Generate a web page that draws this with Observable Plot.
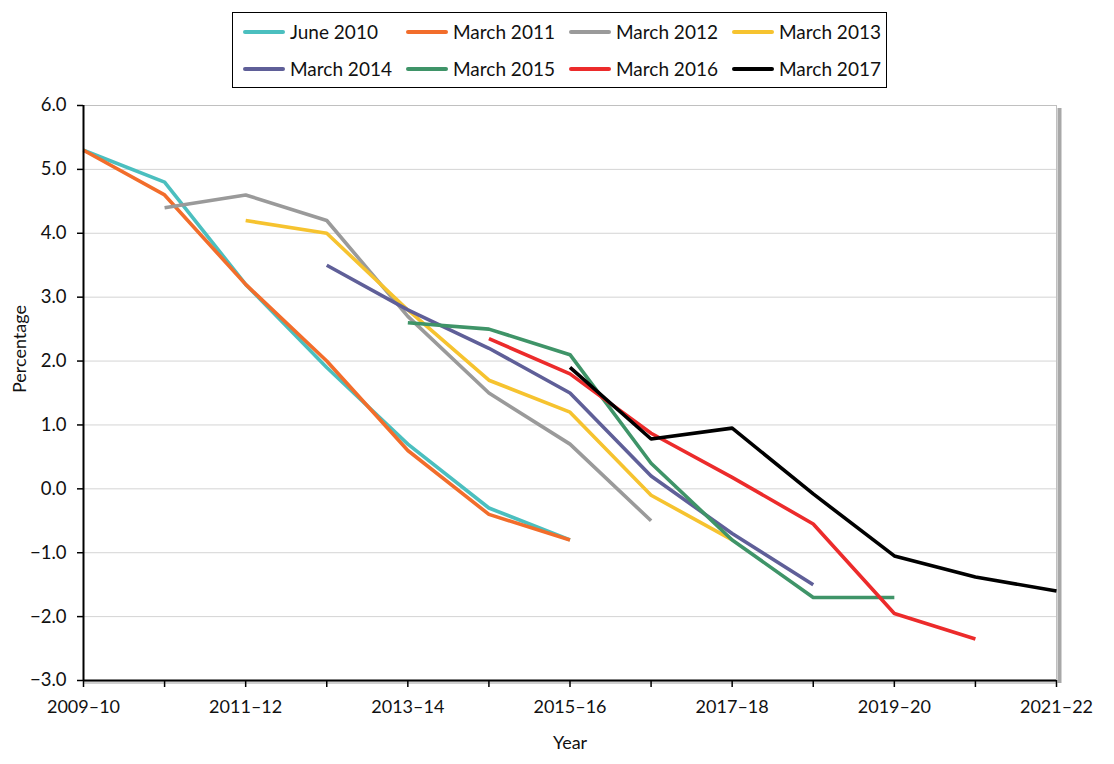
<!DOCTYPE html>
<html>
<head>
<meta charset="utf-8">
<script src="https://cdn.jsdelivr.net/npm/d3@7"></script>
<script src="https://cdn.jsdelivr.net/npm/@observablehq/plot@0.6"></script>
<style>
  html, body { margin: 0; padding: 0; background: #fff; }
  body { width: 1114px; height: 764px; overflow: hidden; font-family: Lato, "Open Sans", sans-serif; }
  #legend-wrap { height: 85px; position: relative; }
  #legend {
    position: absolute; left: 232px; top: 12px; width: 655px; height: 76px;
    border: 1.5px solid #000; box-sizing: border-box;
    display: grid; grid-template-columns: 163px 163px 163px 163px; grid-template-rows: 37px 37px;
    padding: 0 0 0 10px; align-content: center;
  }
  .item { display: flex; align-items: center; font-size: 19px; color: #111; white-space: nowrap; }
  .sw { width: 42px; height: 4px; border-radius: 2px; margin-right: 5px; flex: none; }
</style>
</head>
<body>
<div id="legend-wrap"><div id="legend"></div></div>
<div id="chart"></div>
<script>
const years = ["2009–10","2010–11","2011–12","2012–13","2013–14","2014–15","2015–16","2016–17","2017–18","2018–19","2019–20","2020–21","2021–22"];
const seriesNames = ["June 2010","March 2011","March 2012","March 2013","March 2014","March 2015","March 2016","March 2017"];
const seriesColors = ["#4bbfbf","#f26d2b","#9a9a9a","#f6c32f","#5f5f98","#3f9468","#ec2b2b","#000000"];
// values per year index (null = no forecast)
const june2010  = [5.3, 4.8, 3.2, 1.9, 0.7, -0.3, -0.8, null, null, null, null, null, null];
const march2011 = [5.3, 4.6, 3.2, 2.0, 0.6, -0.4, -0.8, null, null, null, null, null, null];
const march2012 = [null, 4.4, 4.6, 4.2, 2.7, 1.5, 0.7, -0.5, null, null, null, null, null];
const march2013 = [null, null, 4.2, 4.0, 2.8, 1.7, 1.2, -0.1, -0.8, null, null, null, null];
const march2014 = [null, null, null, 3.5, 2.8, 2.2, 1.5, 0.2, -0.7, -1.5, null, null, null];
const march2015 = [null, null, null, null, 2.6, 2.5, 2.1, 0.4, -0.8, -1.7, -1.7, null, null];
const march2016 = [null, null, null, null, null, 2.35, 1.8, 0.87, 0.18, -0.55, -1.95, -2.35, null];
const march2017 = [null, null, null, null, null, null, 1.9, 0.78, 0.95, -0.08, -1.05, -1.38, -1.6];
const seriesValues = [june2010, march2011, march2012, march2013, march2014, march2015, march2016, march2017];
const yTicks = [-3, -2, -1, 0, 1, 2, 3, 4, 5, 6];

// legend
const legend = document.getElementById("legend");
seriesNames.forEach((n, i) => {
  const d = document.createElement("div");
  d.className = "item";
  d.innerHTML = `<span class="sw" style="background:${seriesColors[i]}"></span><span>${n}</span>`;
  legend.appendChild(d);
});

const rows = [];
seriesValues.forEach((vals, s) => {
  vals.forEach((v, i) => { if (v !== null) rows.push({series: seriesNames[s], idx: i, value: v}); });
});

const fmt = d => d.toFixed(1).replace("-", "\u2212");
const font = "Lato, 'Open Sans', sans-serif";

const chart = Plot.plot({
  width: 1114,
  height: 679,
  marginLeft: 83,
  marginRight: 58,
  marginTop: 20,
  marginBottom: 84,
  style: {fontFamily: font, fontSize: "18px", color: "#111", background: "#fff"},
  x: {domain: [0, 12], label: null},
  y: {domain: [-3, 6], label: null},
  color: {domain: seriesNames, range: seriesColors},
  marks: [
    Plot.gridY(yTicks, {stroke: "#d4d4d4", strokeOpacity: 1, strokeWidth: 1}),
    // frame top & right with shadow
    Plot.ruleX([12], {stroke: "#a8a8a8", strokeWidth: 4, dx: 3, dy: 3}),
    Plot.ruleY([6], {stroke: "#c0c0c0", strokeWidth: 1}),
    Plot.ruleX([12], {stroke: "#c0c0c0", strokeWidth: 1}),
    Plot.ruleY([-3], {stroke: "#cfcfcf", strokeWidth: 3, dy: 2}),
    Plot.lineY(rows, {x: "idx", y: "value", z: "series", stroke: "series", strokeWidth: 3.6, strokeLinejoin: "round", strokeLinecap: "butt"}),
    Plot.ruleY([-3], {stroke: "#000", strokeWidth: 2}),
    Plot.ruleX([0], {stroke: "#000", strokeWidth: 2}),
    Plot.axisY(yTicks, {tickFormat: fmt, tickSize: 6, tickPadding: 11, stroke: "#000", strokeWidth: 1.5, fontSize: 18.5, label: null}),
    Plot.axisX(d3.range(13), {tickFormat: d => d % 2 === 0 ? years[d] : "", tickSize: 7, tickPadding: 13, stroke: "#000", strokeWidth: 1.5, fontSize: 18, label: null}),
    Plot.text(["Year"], {frameAnchor: "bottom", dy: 68, fontSize: 18, fill: "#111"}),
    Plot.text(["Percentage"], {frameAnchor: "left", dx: -63, rotate: -90, fontSize: 18, fill: "#111"})
  ]
});
document.getElementById("chart").appendChild(chart);
</script>
</body>
</html>
